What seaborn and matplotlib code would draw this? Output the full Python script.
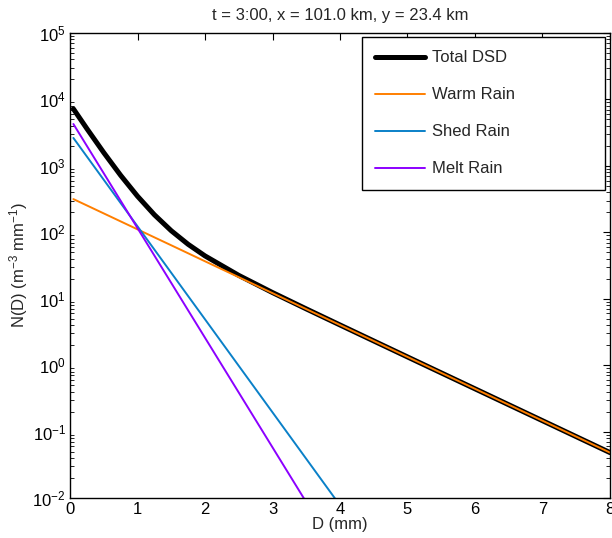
import numpy as np
import pandas as pd
import matplotlib
matplotlib.use("Agg")
import matplotlib.pyplot as plt
import seaborn as sns

D = [0.05, 0.25, 0.5, 0.75, 1.0, 1.25, 1.5, 1.75, 2.0, 2.5, 3.0, 3.5, 4.0, 5.0, 6.0, 7.0, 8.0]
# N(D) values (m^-3 mm^-1)
warm = [316, 253.5, 192.3, 145.9, 110.7, 83.9, 63.7, 48.3, 36.6, 21.1, 12.13, 6.98, 4.02, 1.33, 0.4406, 0.1459, 0.0483]
shed = [2630, 1380, 616.6, 275.4, 123.0, 54.95, 24.55, 10.96, 4.90, 0.977, 0.195, 0.0389, 0.00776, 3.1e-4, 1.23e-5, 4.9e-7, 1.95e-8]
melt = [4266, 1995, 771.9, 298.5, 115.5, 44.67, 17.28, 6.68, 2.585, 0.387, 0.0579, 0.00866, 0.0013, 2.9e-5, 6.5e-7, 1.45e-8, 3.2e-10]
total = [7212, 3629, 1581, 719.8, 349.2, 183.5, 105.5, 65.9, 44.1, 22.46, 12.38, 7.03, 4.027, 1.33, 0.4406, 0.1459, 0.0483]

title = "t = 3:00, x = 101.0 km, y = 23.4 km"

sns.set_theme(style="white")
plt.rcParams['font.family'] = ['Liberation Sans', 'DejaVu Sans']
plt.rcParams['mathtext.fontset'] = 'custom'
plt.rcParams['mathtext.rm'] = 'Liberation Sans'
plt.rcParams['mathtext.it'] = 'Liberation Sans:italic'
plt.rcParams['mathtext.bf'] = 'Liberation Sans:bold'

FS = 12

fig = plt.figure(figsize=(6.12, 5.38), dpi=100)
ax = fig.add_axes([0.1144, 0.0743, 0.8823, 0.8644])

df = pd.DataFrame({"D": D, "total": total, "warm": warm, "shed": shed, "melt": melt})

sns.lineplot(data=df, x="D", y="total", ax=ax, color="black", linewidth=3.6, label="Total DSD")
sns.lineplot(data=df, x="D", y="warm", ax=ax, color="#ff7f00", linewidth=1.4, label="Warm Rain")
sns.lineplot(data=df, x="D", y="shed", ax=ax, color="#0a80c8", linewidth=1.4, label="Shed Rain")
sns.lineplot(data=df, x="D", y="melt", ax=ax, color="#8c00ff", linewidth=1.4, label="Melt Rain")

ax.set_yscale("log")
ax.set_xlim(0, 8)
ax.set_ylim(1e-2, 1e5)
ax.set_xticks(range(0, 9))
ax.set_xlabel("D (mm)", fontsize=FS, labelpad=0)
ax.set_ylabel("N(D) (m$^{-3}$ mm$^{-1}$)", fontsize=FS, labelpad=2)
ax.set_title(title, fontsize=FS, pad=9)

for s in ax.spines.values():
    s.set_color("black")
    s.set_linewidth(1.0)

ax.tick_params(axis="both", which="both", direction="in", top=True, right=True,
               colors="black", labelsize=FS)
ax.tick_params(axis="both", which="major", length=5, width=0.8)
ax.tick_params(axis="y", which="minor", length=3, width=0.6, left=True, right=True)
ax.tick_params(axis="x", which="both", pad=3)
ax.tick_params(axis="y", which="both", pad=3)

leg = ax.legend(loc="upper right", bbox_to_anchor=(0.541, 0.55, 0.45, 0.441),
                mode="expand", fontsize=FS,
                frameon=True, fancybox=False, edgecolor="black", framealpha=1,
                handlelength=3.0, labelspacing=1.32, borderpad=0.8, handletextpad=0.4,
                borderaxespad=0.0)
leg.get_frame().set_linewidth(1.0)

fig.savefig("out.png", dpi=100)
